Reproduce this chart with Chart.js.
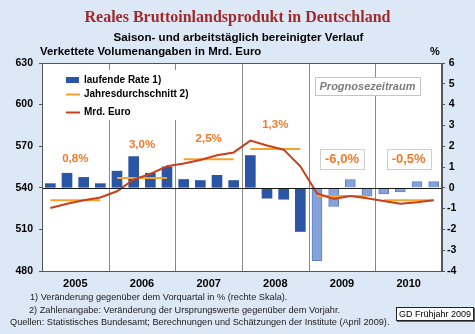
<!DOCTYPE html>
<html lang="de">
<head>
<meta charset="utf-8">
<title>Reales Bruttoinlandsprodukt in Deutschland</title>
<script src="https://cdn.jsdelivr.net/npm/chart.js@4/dist/chart.umd.min.js"></script>
<style>
  html, body { margin: 0; padding: 0; }
  body {
    width: 475px; height: 334px; overflow: hidden; position: relative;
    background: #dde8f6;
    font-family: "Liberation Sans", Arial, sans-serif;
    color: #000;
  }
  #c { position: absolute; left: 0; top: 0; }
  .t { position: absolute; white-space: nowrap; }
  #title {
    left: 0; width: 475px; top: 8px; text-align: center;
    font: bold 16px/18px "Liberation Serif", "Times New Roman", serif;
    color: #9e2a2b;
  }
  #subtitle { left: 0; width: 477px; top: 30px; text-align: center; font: bold 11.6px/13px "Liberation Sans", Arial, sans-serif; }
  #unit { left: 40px; top: 45px; font: bold 11.4px/13px "Liberation Sans", Arial, sans-serif; }
  #pct { left: 430px; top: 45px; font: bold 11px/13px "Liberation Sans", Arial, sans-serif; }
  .note { font: 9.2px/12px "Liberation Sans", Arial, sans-serif; color: #1a1a1a; }
  #gd {
    position: absolute; left: 396px; top: 307px; width: 76px; height: 12px;
    background: #fff; border: 1px solid #222; box-shadow: 1px 1px 0 #666;
    font: 9px/12px "Liberation Sans", Arial, sans-serif; text-align: center; white-space: nowrap;
  }
</style>
</head>
<body>
<canvas id="c" width="475" height="334"></canvas>
<div class="t" id="title">Reales Bruttoinlandsprodukt in Deutschland</div>
<div class="t" id="subtitle">Saison- und arbeitstäglich bereinigter Verlauf</div>
<div class="t" id="unit">Verkettete Volumenangaben in Mrd. Euro</div>
<div class="t" id="pct">%</div>
<div class="t note" style="left:30px;top:291px">1) Veränderung gegenüber dem Vorquartal in % (rechte Skala).</div>
<div class="t note" style="left:29px;top:304px">2) Zahlenangabe: Veränderung der Ursprungswerte gegenüber dem Vorjahr.</div>
<div class="t note" style="left:10px;top:316px">Quellen: Statistisches Bundesamt; Berechnungen und Schätzungen der Institute (April 2009).</div>
<div id="gd">GD Frühjahr 2009</div>

<script>
// Years on the x axis (four quarters each)
const years = ['2005', '2006', '2007', '2008', '2009', '2010'];
const forecastYears = ['2009', '2010'];

// Change on previous quarter, % (right scale)
const quarterlyRate = [
  0.2, 0.7, 0.5, 0.2,
  0.8, 1.5, 0.7, 1.0,
  0.4, 0.35, 0.6, 0.35,
  1.55, -0.5, -0.55, -2.1,
  -3.5, -0.9, 0.4, -0.4,
  -0.3, -0.2, 0.3, 0.3
];

// Chained volume, bn euro (left scale)
const gdpLevel = [
  525.5, 528.5, 531, 533,
  537.5, 546, 550, 555.5,
  557.5, 560, 563.5, 565.5,
  574, 570.5, 567.5, 555.5,
  536, 532, 534, 532.5,
  530.5, 528.5, 529.5, 531
];

// Annual average level, bn euro, and annual change labels
const annualAvg = [531, 547, 560.5, 568, 534, 531];
const annualGrowth = ['0,8%', '3,0%', '2,5%', '1,3%', '-6,0%', '-0,5%'];

// Tick values of the left and right scales
const leftTicks = [480, 510, 540, 570, 600, 630];
const rightTicks = [-4, -3, -2, -1, 0, 1, 2, 3, 4, 5, 6];

const FONT = '"Liberation Sans", Arial, sans-serif';
const DARK_BAR = '#2b56a6';
const LIGHT_BAR = '#86a2dc';
const RED = '#c8401c';
const ORANGE = '#f5a32a';
const LABEL_ORANGE = '#f07a2c';

const isForecast = i => forecastYears.includes(years[Math.floor(i / 4)]);

const barData = quarterlyRate.map((v, i) => ({ x: i + 0.5, y: v }));
const levelData = gdpLevel.map((v, i) => ({ x: i + 0.5, y: v }));
const avgData = [];
annualAvg.forEach((v, k) => {
  avgData.push({ x: 4 * k + 0.5, y: v }, { x: 4 * k + 3.5, y: v });
  if (k < annualAvg.length - 1) avgData.push({ x: 4 * k + 4, y: null });
});

// White plot background
const plotBackground = {
  id: 'plotBackground',
  beforeDraw(chart) {
    const { ctx, chartArea: a } = chart;
    ctx.save();
    ctx.fillStyle = '#fff';
    ctx.fillRect(a.left, a.top, a.right - a.left, a.bottom - a.top);
    ctx.restore();
  }
};

// Year separators and the zero line
const yearLines = {
  id: 'yearLines',
  beforeDatasetsDraw(chart) {
    const { ctx, chartArea: a, scales } = chart;
    ctx.save();
    ctx.strokeStyle = '#8a8a8a';
    ctx.lineWidth = 1;
    for (let k = 1; k < years.length; k++) {
      const x = Math.round(scales.x.getPixelForValue(4 * k)) + 0.5;
      ctx.beginPath();
      ctx.moveTo(x, a.top);
      ctx.lineTo(x, a.bottom);
      ctx.stroke();
    }
    ctx.restore();
  },
  afterDatasetsDraw(chart) {
    const { ctx, chartArea: a, scales } = chart;
    ctx.save();
    ctx.strokeStyle = '#1a1a1a';
    ctx.lineWidth = 1;
    const y0 = Math.round(scales.y2.getPixelForValue(0)) + 0.5;
    ctx.beginPath();
    ctx.moveTo(a.left, y0);
    ctx.lineTo(a.right, y0);
    ctx.stroke();
    ctx.restore();
  }
};

// Legend, annual change labels, forecast note, plot frame
const annotations = {
  id: 'annotations',
  afterDraw(chart) {
    const { ctx, chartArea: a, scales } = chart;
    ctx.save();

    // legend
    ctx.fillStyle = '#fff';
    ctx.fillRect(a.left + 1, a.top + 7, 188, 50);
    ctx.fillStyle = DARK_BAR;
    ctx.fillRect(66, 77, 13, 6);
    ctx.lineWidth = 2;
    ctx.strokeStyle = ORANGE;
    ctx.beginPath(); ctx.moveTo(66, 94.5); ctx.lineTo(80, 94.5); ctx.stroke();
    ctx.strokeStyle = RED;
    ctx.beginPath(); ctx.moveTo(66, 112.5); ctx.lineTo(80, 112.5); ctx.stroke();
    ctx.fillStyle = '#000';
    ctx.font = 'bold 10px ' + FONT;
    ctx.textBaseline = 'middle';
    ctx.textAlign = 'left';
    ctx.fillText('laufende Rate 1)', 84, 80.5);
    ctx.fillText('Jahresdurchschnitt 2)', 84, 94.5);
    ctx.fillText('Mrd. Euro', 84, 112.5);

    // forecast period note
    const px = scales.x.getPixelForValue(4 * years.indexOf(forecastYears[0]) + 3.5);
    ctx.fillStyle = '#fff';
    ctx.fillRect(px - 52, a.top + 14, 105, 18);
    ctx.strokeStyle = '#c4c4c4';
    ctx.lineWidth = 1;
    ctx.strokeRect(Math.round(px - 52) + 0.5, a.top + 14.5, 105, 18);
    ctx.fillStyle = '#7c7c7c';
    ctx.font = 'italic bold 11px ' + FONT;
    ctx.textAlign = 'center';
    ctx.fillText('Prognosezeitraum', px + 0.5, a.top + 23.5);

    // annual change labels
    const labelLevel = [561.5, 571, 575.5, 586, 561, 561];
    annualGrowth.forEach((txt, k) => {
      const x = scales.x.getPixelForValue(4 * k + 2);
      const y = scales.y.getPixelForValue(labelLevel[k]);
      const boxed = forecastYears.includes(years[k]);
      ctx.font = (boxed ? 'bold 13px ' : 'bold 11.5px ') + FONT;
      if (boxed) {
        const w = ctx.measureText(txt).width + 10;
        ctx.fillStyle = '#fff';
        ctx.fillRect(x - w / 2, y - 10, w, 20);
        ctx.strokeStyle = '#cfcfcf';
        ctx.strokeRect(Math.round(x - w / 2) + 0.5, Math.round(y - 10) + 0.5, Math.round(w), 20);
      }
      ctx.fillStyle = LABEL_ORANGE;
      ctx.textAlign = 'center';
      ctx.fillText(txt, x, y + 0.5);
    });

    // plot frame
    ctx.strokeStyle = '#555';
    ctx.lineWidth = 1;
    ctx.strokeRect(a.left + 0.5, a.top + 0.5, a.right - a.left - 1, a.bottom - a.top);
    ctx.restore();
  }
};

const tickFont = { family: FONT, size: 10.5, weight: 'bold' };

new Chart(document.getElementById('c'), {
  type: 'bar',
  data: {
    datasets: [
      {
        type: 'line', label: 'Mrd. Euro', data: levelData, yAxisID: 'y',
        borderColor: RED, borderWidth: 2, pointRadius: 0, tension: 0, order: 1
      },
      {
        type: 'line', label: 'Jahresdurchschnitt 2)', data: avgData, yAxisID: 'y',
        borderColor: ORANGE, borderWidth: 2, pointRadius: 0, spanGaps: false, order: 2
      },
      {
        type: 'bar', label: 'laufende Rate 1)', data: barData, yAxisID: 'y2',
        backgroundColor: quarterlyRate.map((v, i) => isForecast(i) ? LIGHT_BAR : DARK_BAR),
        borderColor: quarterlyRate.map((v, i) => isForecast(i) ? '#5d7fc6' : DARK_BAR),
        borderWidth: quarterlyRate.map((v, i) => isForecast(i) ? 1 : 0),
        barThickness: 10, order: 3
      }
    ]
  },
  options: {
    responsive: false,
    animation: false,
    devicePixelRatio: 1,
    layout: { padding: { top: 63, bottom: 43, left: 0, right: 0 } },
    plugins: { legend: { display: false }, tooltip: { enabled: false } },
    scales: {
      x: {
        type: 'linear', min: 0, max: 24, offset: false, position: 'bottom',
        grid: { display: false, drawTicks: false },
        border: { display: true, color: '#222' },
        afterBuildTicks: s => { s.ticks = years.map((y, k) => ({ value: 4 * k + 2 })); },
        ticks: {
          autoSkip: false, maxRotation: 0, padding: 6, color: '#000',
          font: { family: FONT, size: 11, weight: 'bold' },
          callback: v => years[Math.round((v - 2) / 4)]
        },
        afterFit: s => { s.height = 20; }
      },
      y: {
        position: 'left', min: leftTicks[0], max: leftTicks[leftTicks.length - 1],
        afterBuildTicks: s => { s.ticks = leftTicks.map(v => ({ value: v })); },
        grid: { drawOnChartArea: false, tickLength: 3, color: '#555' },
        border: { color: '#555' },
        ticks: { padding: 6, color: '#000', font: tickFont },
        afterFit: s => { s.width = 42; }
      },
      y2: {
        position: 'right', min: rightTicks[0], max: rightTicks[rightTicks.length - 1],
        afterBuildTicks: s => { s.ticks = rightTicks.map(v => ({ value: v })); },
        grid: { drawOnChartArea: false, tickLength: 3, color: '#555' },
        border: { color: '#555' },
        ticks: { padding: 2, color: '#000', font: tickFont, crossAlign: 'center' },
        afterFit: s => { s.width = 33; }
      }
    }
  },
  plugins: [plotBackground, yearLines, annotations]
});
</script>
</body>
</html>
